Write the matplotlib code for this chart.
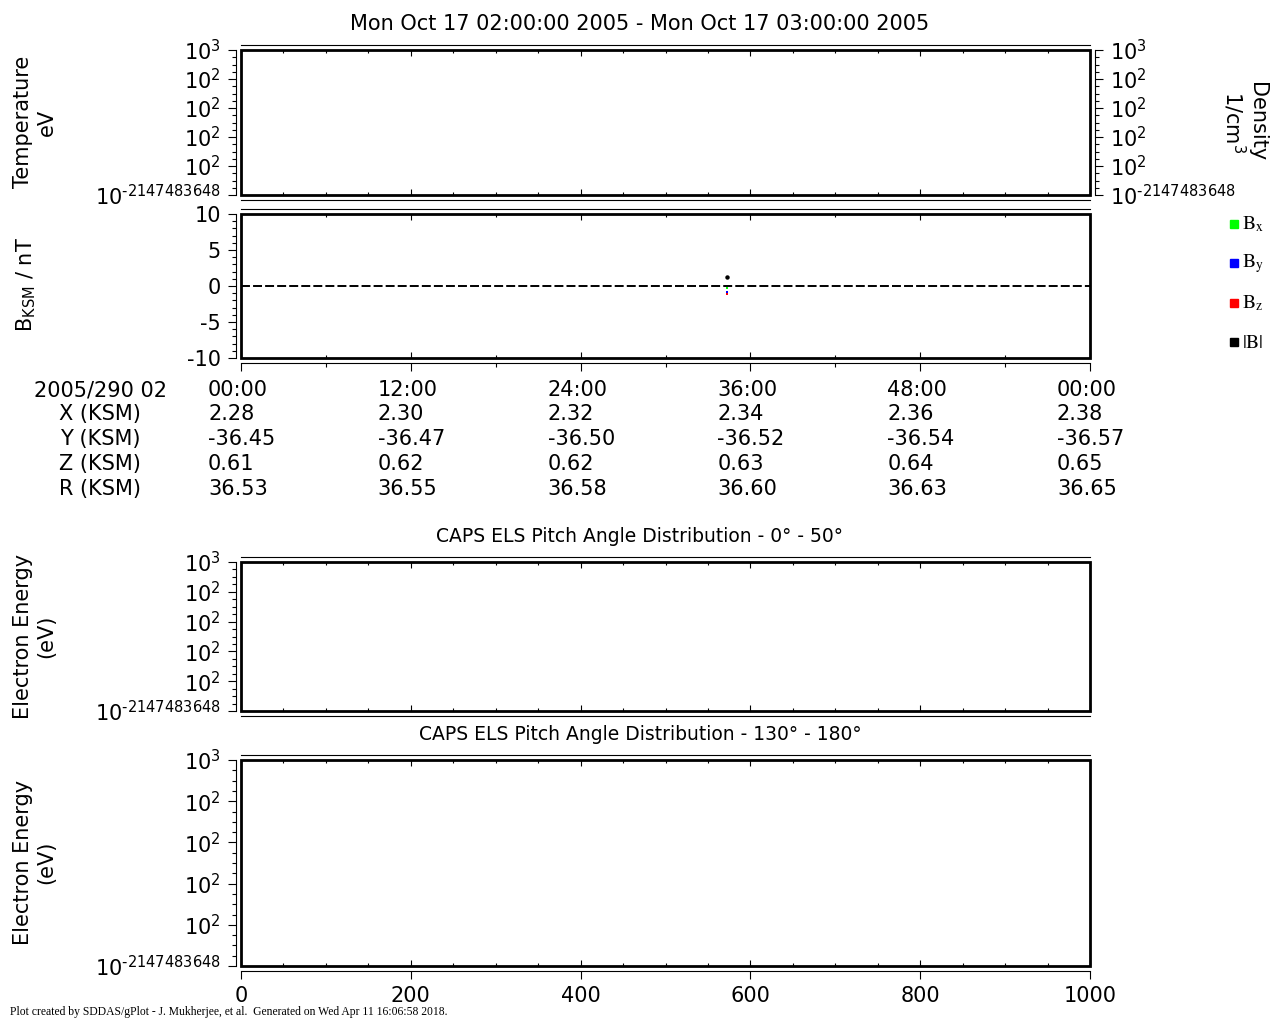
import matplotlib
matplotlib.use('Agg')
from matplotlib import pyplot as plt
from matplotlib.patches import Rectangle
from matplotlib.ticker import FixedLocator, MultipleLocator


W, H = 1280, 1024  # figure size in pixels (dpi 100)

# ---- values ----
x_range = [0, 1000]
bottom_ticks = [0, 200, 400, 600, 800, 1000]
# gPlot prints the fill value exponent with a plain hyphen (U+2010 keeps mathtext from using a minus)
log_labels = ['$10^{\u20102147483648}$', '$10^{2}$', '$10^{2}$', '$10^{2}$', '$10^{2}$', '$10^{3}$']
b_range = [-10, 10]
b_ticks = [-10, -5, 0, 5, 10]

time_labels = ['00:00', '12:00', '24:00', '36:00', '48:00', '00:00']
orbit_rows = ['2005/290 02', 'X (KSM)', 'Y (KSM)', 'Z (KSM)', 'R (KSM)']
x_ksm = ['2.28', '2.30', '2.32', '2.34', '2.36', '2.38']
y_ksm = ['-36.45', '-36.47', '-36.50', '-36.52', '-36.54', '-36.57']
z_ksm = ['0.61', '0.62', '0.62', '0.63', '0.64', '0.65']
r_ksm = ['36.53', '36.55', '36.58', '36.60', '36.63', '36.65']

b_time = [573]
b_x = [-0.3]
b_y = [-0.8]
b_z = [-1.1]
b_mag = [1.3]

plt.rcParams['font.family'] = 'DejaVu Sans'
plt.rcParams['font.size'] = 15


def px_rect(l, t, r, b):
    return [l / W, 1 - b / H, (r - l) / W, (b - t) / H]


def make_panel(fig, box, in_minor, right=False):
    """ axes with heavy frame, thin offset spines carrying the outward ticks """
    ax = fig.add_axes(px_rect(*box))
    ax.set_xlim(x_range)
    for side in ('left', 'bottom', 'top', 'right'):
        ax.spines[side].set_position(('outward', 3.6))
        ax.spines[side].set_linewidth(0.8)
    ax.spines['right'].set_visible(right)
    ax.tick_params(axis='x', which='both', bottom=False, top=False, labelbottom=False)
    ax.tick_params(axis='y', which='both', direction='out', width=0.8, left=True,
                   right=right, labelright=right, pad=5)
    ax.tick_params(axis='y', which='major', length=6)
    ax.tick_params(axis='y', which='minor', length=3)
    ax.add_patch(Rectangle((0, 0), 1, 1, transform=ax.transAxes, fill=False,
                           lw=2.0, ec='black', clip_on=False, zorder=5))

    inn = fig.add_axes(px_rect(*box))
    inn.patch.set_visible(False)
    for s in inn.spines.values():
        s.set_visible(False)
    inn.set_xlim(x_range)
    inn.set_yticks([])
    inn.xaxis.set_major_locator(MultipleLocator(200))
    inn.xaxis.set_minor_locator(MultipleLocator(in_minor))
    inn.tick_params(axis='x', which='both', direction='in', top=True, bottom=True,
                    labelbottom=False, width=0.8)
    inn.tick_params(axis='x', which='major', length=4.5)
    inn.tick_params(axis='x', which='minor', length=2.4)
    return ax


def log_style(ax):
    ax.set_ylim(0, 5)
    ax.yaxis.set_major_locator(FixedLocator(range(6)))
    ax.yaxis.set_minor_locator(MultipleLocator(0.25))
    ax.set_yticklabels(log_labels)


fig = plt.figure(figsize=(W / 100, H / 100), dpi=100)

# ---- panel 1: temperature / density ----
ax1 = make_panel(fig, (241, 50, 1090, 195), 50, right=True)
log_style(ax1)

# ---- panel 2: magnetic field ----
ax2 = make_panel(fig, (241, 214, 1090, 358), 100)
ax2.set_ylim(b_range)
ax2.yaxis.set_major_locator(FixedLocator(b_ticks))
ax2.yaxis.set_minor_locator(MultipleLocator(1))
ax2.set_yticklabels([str(v) for v in b_ticks])
ax2.xaxis.set_major_locator(MultipleLocator(200))
ax2.xaxis.set_minor_locator(MultipleLocator(100))
ax2.tick_params(axis='x', which='both', bottom=True, direction='out', width=0.8)
ax2.tick_params(axis='x', which='major', length=5.5)
ax2.tick_params(axis='x', which='minor', length=3)
ax2.axhline(0, color='black', lw=1.4, ls=(0, (4.6, 1.6)))
ax2.plot(b_time, b_x, 's', ms=1.8, color='#00ff00', mew=0)
ax2.plot(b_time, b_y, 's', ms=1.8, color='#0000ff', mew=0)
ax2.plot(b_time, b_z, 's', ms=1.8, color='#ff0000', mew=0)
ax2.plot(b_time, b_mag, 'o', ms=3.2, color='black', mew=0)

# ---- panels 3 & 4: CAPS ELS pitch angle distributions ----
ax3 = make_panel(fig, (241, 562, 1090, 711), 50)
log_style(ax3)
ax4 = make_panel(fig, (241, 760, 1090, 966), 50)
log_style(ax4)
ax4.xaxis.set_major_locator(FixedLocator(bottom_ticks))
ax4.xaxis.set_minor_locator(FixedLocator([]))
ax4.tick_params(axis='x', which='major', bottom=True, labelbottom=True,
                direction='out', length=5.5, width=0.8, pad=5)

# ---- titles and axis labels ----
fig.text(0.5, 1 - 29.5 / H, 'Mon Oct 17 02:00:00 2005 - Mon Oct 17 03:00:00 2005',
         ha='center', va='baseline', fontsize=15)
fig.text(0.5, 1 - 542 / H, 'CAPS ELS Pitch Angle Distribution - 0° - 50°',
         ha='center', va='baseline', fontsize=13.5)
fig.text(0.5, 1 - 740 / H, 'CAPS ELS Pitch Angle Distribution - 130° - 180°',
         ha='center', va='baseline', fontsize=13.5)

fig.text(35 / W, 1 - 122 / H, 'Temperature\neV', rotation=90, ha='center', va='center',
         multialignment='center')
fig.text(26 / W, 1 - 284 / H, r'B$_\mathregular{KSM}$ / nT', rotation=90, ha='center', va='center')
fig.text(35 / W, 1 - 636 / H, 'Electron Energy\n(eV)', rotation=90, ha='center', va='center',
         multialignment='center')
fig.text(35 / W, 1 - 862 / H, 'Electron Energy\n(eV)', rotation=90, ha='center', va='center',
         multialignment='center')
fig.text(1244 / W, 1 - 122 / H, 'Density\n1/cm$^3$', rotation=-90, ha='center', va='center',
         multialignment='center', linespacing=1.0)

# ---- field component legend ----
legend_items = [('#00ff00', r'$\mathrm{B_x}$'), ('#0000ff', r'$\mathrm{B_y}$'),
                ('#ff0000', r'$\mathrm{B_z}$'), ('black', r'$\mathrm{|B|}$')]
for i, (col, lab) in enumerate(legend_items):
    yc = 224 + 39.4 * i
    fig.add_artist(Rectangle((1230 / W, 1 - (yc + 4) / H), 8 / W, 8 / H,
                             transform=fig.transFigure, color=col))
    fig.text(1242 / W, 1 - yc / H, lab, ha='left', va='center', fontsize=14,
             math_fontfamily='stix')

# ---- orbit table ----
row_base = [396, 420, 445, 470, 495]
for lab, yb in zip(orbit_rows, row_base):
    fig.text(100 / W, 1 - yb / H, lab, ha='center', va='baseline', fontsize=15)
for vals, yb in zip([time_labels, x_ksm, y_ksm, z_ksm, r_ksm], row_base):
    for xv, s in zip(bottom_ticks, vals):
        ax2.annotate(s, xy=(xv, H - yb), xycoords=('data', 'figure pixels'),
                     xytext=(-33, 0), textcoords='offset pixels',
                     ha='left', va='baseline', fontsize=15, annotation_clip=False)

fig.text(10 / W, 1 - 1015 / H,
         'Plot created by SDDAS/gPlot - J. Mukherjee, et al.  Generated on Wed Apr 11 16:06:58 2018.',
         ha='left', va='baseline', fontsize=8.4, family='Liberation Serif')

fig.savefig('out.png', dpi=100)
